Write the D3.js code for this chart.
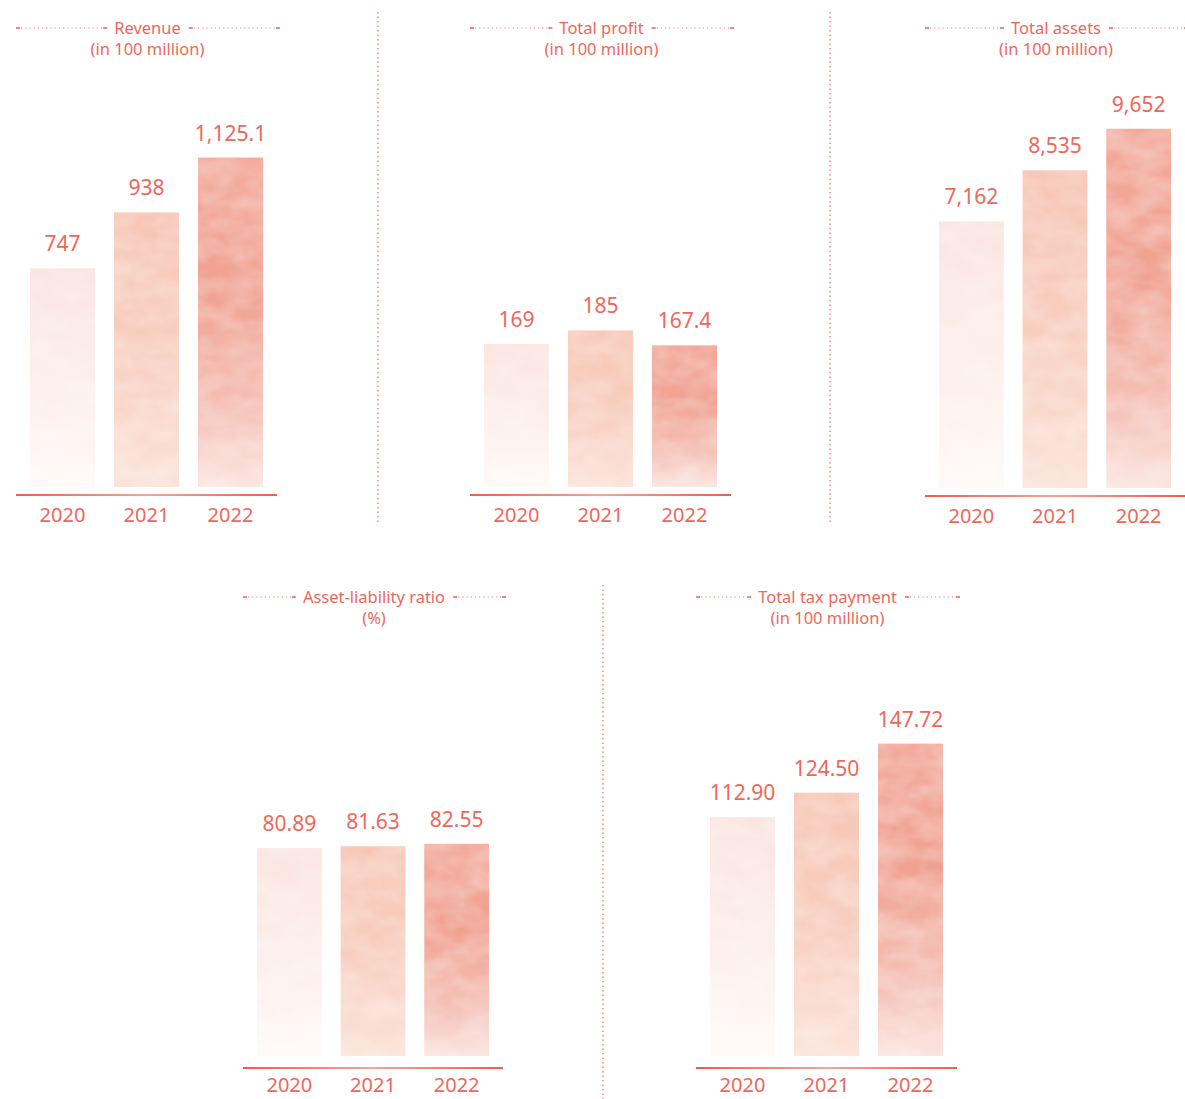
<!DOCTYPE html>
<html>
<head>
<meta charset="utf-8">
<script src="https://cdn.jsdelivr.net/npm/d3@7"></script>
<style>
  html, body { margin: 0; padding: 0; background: #fff; }
  svg { display: block; }
  text { font-family: "Noto Sans", "Open Sans", sans-serif; fill: #ee675b; }
</style>
</head>
<body>
<div id="chart"></div>
<script>
// data
const years = ["2020", "2021", "2022"];
const titles = ["Revenue", "Total profit", "Total assets", "Asset-liability ratio", "Total tax payment"];
const units = ["(in 100 million)", "(in 100 million)", "(in 100 million)", "(%)", "(in 100 million)"];
const revenue = [747, 938, 1125.1];
const profit = [169, 185, 167.4];
const assets = [7162, 8535, 9652];
const ratio = [80.89, 81.63, 82.55];
const tax = [112.90, 124.50, 147.72];
const labels = [
  ["747", "938", "1,125.1"],
  ["169", "185", "167.4"],
  ["7,162", "8,535", "9,652"],
  ["80.89", "81.63", "82.55"],
  ["112.90", "124.50", "147.72"]
];
const series = [revenue, profit, assets, ratio, tax];
const domainMax = [1390, 481, 10935, 158, 192];

const W = 1185, H = 1099;
const RED = "#ee675b";

// panel frames: axis left / right, bar baseline, year label offset
const PANELS = [
  { x0: 16, x1: 277, base: 487, top: 80, axis: 495, titleY: 34, yrOff: 27 },
  { x0: 470, x1: 731, base: 487, top: 80, axis: 495, titleY: 34, yrOff: 27 },
  { x0: 925, x1: 1185, base: 488, top: 81, axis: 496, titleY: 34, yrOff: 27 },
  { x0: 243, x1: 503, base: 1056, top: 650, axis: 1068, titleY: 603, yrOff: 24 },
  { x0: 696, x1: 957, base: 1056, top: 650, axis: 1068, titleY: 603, yrOff: 24 }
];

const svg = d3.select("#chart").append("svg").attr("width", W).attr("height", H);
const defs = svg.append("defs");

const BAR_STOPS = [
  [["0%", "#fbe4df"], ["55%", "#fcefec"], ["100%", "#fffaf8"]],
  [["0%", "#f7c6b5"], ["50%", "#f8cebe"], ["100%", "#fbe3d9"]],
  [["0%", "#f3a999"], ["40%", "#f1a190"], ["78%", "#f5c2b7"], ["100%", "#fbe4df"]]
];
BAR_STOPS.forEach((stops, i) => {
  const lg = defs.append("linearGradient").attr("id", "bar" + i)
    .attr("x1", 0).attr("y1", 0).attr("x2", 0).attr("y2", 1);
  stops.forEach(s => lg.append("stop").attr("offset", s[0]).attr("stop-color", s[1]));
});

const ag = defs.append("linearGradient").attr("id", "axisGrad")
  .attr("x1", 0).attr("y1", 0).attr("x2", 1).attr("y2", 0);
ag.append("stop").attr("offset", "0%").attr("stop-color", "#ee5d52");
ag.append("stop").attr("offset", "50%").attr("stop-color", "#f4a39c");
ag.append("stop").attr("offset", "100%").attr("stop-color", "#ee5d52");

// soft watercolor texture
const f = defs.append("filter").attr("id", "wc").attr("x", 0).attr("y", 0).attr("width", 1).attr("height", 1);
f.append("feTurbulence").attr("type", "fractalNoise").attr("baseFrequency", "0.03 0.05")
  .attr("numOctaves", 3).attr("seed", 7).attr("result", "n");
f.append("feColorMatrix").attr("in", "n").attr("type", "matrix")
  .attr("values", "0 0 0 0 1  0 0 0 0 1  0 0 0 0 1  0.45 0 0 0 -0.12").attr("result", "w");
f.append("feComposite").attr("in", "w").attr("in2", "SourceGraphic").attr("operator", "in").attr("result", "t");
const fm = f.append("feMerge");
fm.append("feMergeNode").attr("in", "SourceGraphic");
fm.append("feMergeNode").attr("in", "t");

// separators
const SEPS = [[378, 12, 525], [830, 12, 525], [603, 585, 1099]];
svg.selectAll("line.sep").data(SEPS).join("line").attr("class", "sep")
  .attr("x1", d => d[0]).attr("x2", d => d[0]).attr("y1", d => d[1]).attr("y2", d => d[2])
  .attr("stroke", "#f08a80").attr("stroke-width", 1.5).attr("stroke-dasharray", "1.5 3");

function dotted(g, xa, xb, y) {
  g.append("line").attr("x1", xa + 5).attr("x2", xb - 5).attr("y1", y).attr("y2", y)
    .attr("stroke", "#f07d72").attr("stroke-width", 1.2).attr("stroke-dasharray", "1.2 3");
  [xa, xb - 4].forEach(x => g.append("line").attr("x1", x).attr("x2", x + 4).attr("y1", y).attr("y2", y)
    .attr("stroke", RED).attr("stroke-width", 1.6));
}

PANELS.forEach((p, k) => {
  const g = svg.append("g");
  const vals = series[k];
  const x = d3.scaleBand().domain(years).range([p.x0 + 14, p.x1 - 14]).paddingInner(0.226).paddingOuter(0);
  const y = d3.scaleLinear().domain([0, domainMax[k]]).range([p.base, p.top]);

  // title
  const cx = (p.x0 + p.x1) / 2 + 1;
  const t1 = g.append("text").attr("x", cx).attr("y", p.titleY).attr("text-anchor", "middle")
    .style("font-size", "16.5px").text(titles[k]);
  g.append("text").attr("x", cx).attr("y", p.titleY + 21).attr("text-anchor", "middle")
    .style("font-size", "16.5px").text(units[k]);
  const tw = t1.node().getComputedTextLength();
  const ly = p.titleY - 6;
  dotted(g, p.x0, cx - tw / 2 - 7, ly);
  dotted(g, cx + tw / 2 + 8, p.x1 + 3, ly);

  // bars
  g.selectAll("rect.bar").data(vals).join("rect").attr("class", "bar")
    .attr("x", (d, i) => x(years[i])).attr("width", x.bandwidth())
    .attr("y", d => y(d)).attr("height", d => p.base - y(d))
    .attr("fill", (d, i) => `url(#bar${i})`).attr("filter", "url(#wc)");

  // value labels
  g.selectAll("text.val").data(vals).join("text").attr("class", "val")
    .attr("x", (d, i) => x(years[i]) + x.bandwidth() / 2).attr("y", d => y(d) - 17)
    .attr("text-anchor", "middle").style("font-size", "21px").text((d, i) => labels[k][i]);

  // axis line
  g.append("rect").attr("x", p.x0).attr("y", p.axis - 1).attr("width", p.x1 - p.x0).attr("height", 2)
    .attr("fill", "url(#axisGrad)");

  // year labels
  g.selectAll("text.yr").data(years).join("text").attr("class", "yr")
    .attr("x", d => x(d) + x.bandwidth() / 2).attr("y", p.axis + p.yrOff)
    .attr("text-anchor", "middle").style("font-size", "20px").text(d => d);
});
</script>
</body>
</html>
